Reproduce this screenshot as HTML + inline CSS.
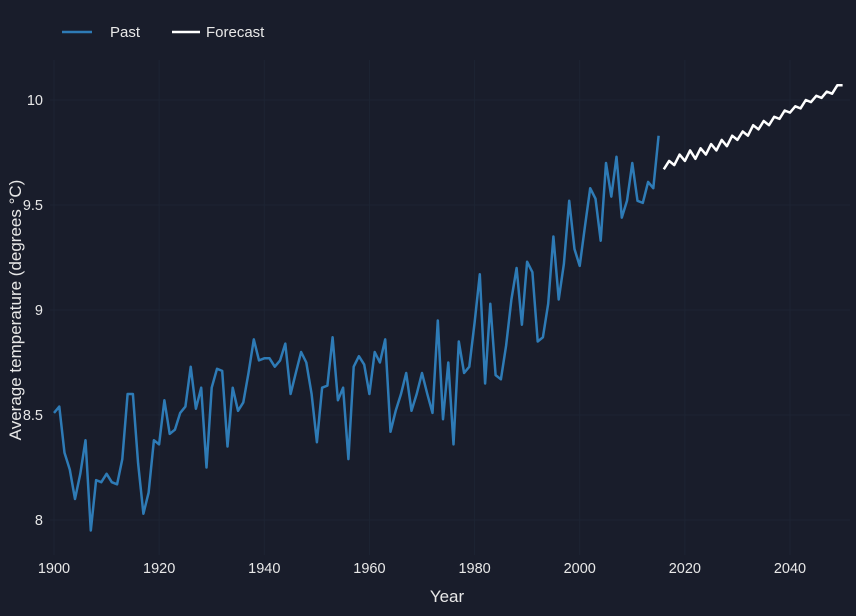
<!DOCTYPE html>
<html><head><meta charset="utf-8"><style>
html,body{margin:0;padding:0;background:#191d2b;}
svg{display:block;font-family:"Liberation Sans",sans-serif;}
</style></head><body>
<svg id="chart" width="856" height="616">
<rect width="856" height="616" fill="#191d2b"/>
<g id="grid"></g><g id="axes"></g><g id="series"></g>
<g>
<g><line x1="62" y1="32" x2="92" y2="32" stroke="#2e7bb6" stroke-width="2.5"/><text x="110" y="37" fill="#e8e8e8" font-size="15">Past</text></g>
<g><line x1="172" y1="32" x2="200" y2="32" stroke="#ffffff" stroke-width="2.5"/><text x="206" y="37" fill="#e8e8e8" font-size="15">Forecast</text></g>
</g>
<text x="447" y="602" text-anchor="middle" fill="#e8e8e8" font-size="17">Year</text>
<text transform="translate(21,310) rotate(-90)" text-anchor="middle" fill="#e8e8e8" font-size="17">Average temperature (degrees °C)</text>
</svg>
<script>
const pastStartYear = 1900;
const pastValues = [8.51,8.54,8.32,8.24,8.10,8.22,8.38,7.95,8.19,8.18,8.22,8.18,8.17,8.29,8.60,8.60,8.27,8.03,8.13,8.38,
8.36,8.57,8.41,8.43,8.51,8.54,8.73,8.53,8.63,8.25,8.63,8.72,8.71,8.35,8.63,8.52,8.56,8.70,8.86,8.76,
8.77,8.77,8.73,8.76,8.84,8.60,8.70,8.80,8.75,8.60,8.37,8.63,8.64,8.87,8.57,8.63,8.29,8.73,8.78,8.74,
8.60,8.80,8.75,8.86,8.42,8.52,8.60,8.70,8.52,8.60,8.70,8.60,8.51,8.95,8.48,8.75,8.36,8.85,8.70,8.73,
8.94,9.17,8.65,9.03,8.69,8.67,8.83,9.05,9.20,8.93,9.23,9.18,8.85,8.87,9.03,9.35,9.05,9.22,9.52,9.29,
9.21,9.40,9.58,9.53,9.33,9.70,9.54,9.73,9.44,9.52,9.70,9.52,9.51,9.61,9.58,9.83];
const forecastStartYear = 2016;
const forecastValues = [9.67,9.71,9.69,9.74,9.71,9.76,9.72,9.77,9.74,9.79,9.76,9.81,9.78,9.83,9.81,9.85,9.83,9.88,9.86,9.90,
9.88,9.92,9.91,9.95,9.94,9.97,9.96,10.00,9.99,10.02,10.01,10.04,10.03,10.07,10.07];
const xTicks = [1900,1920,1940,1960,1980,2000,2020,2040];
const yTicks = [8,8.5,9,9.5,10];
const yTickLabels = ["8","8.5","9","9.5","10"];

const NS="http://www.w3.org/2000/svg";
const X = yr => 54 + (yr-1900)*(736/140);
const Y = v => 520 - (v-8)*210;
function mk(tag, attrs, parent){const e=document.createElementNS(NS,tag);for(const k in attrs)e.setAttribute(k,attrs[k]);parent.appendChild(e);return e;}
const grid=document.getElementById('grid'), axes=document.getElementById('axes'), series=document.getElementById('series');
xTicks.forEach(t=>{
  const l=mk('line',{x1:X(t),x2:X(t),y1:60,y2:555,stroke:'#1d2433','stroke-width':1},grid);
  
  
  const tx=mk('text',{x:X(t),y:573,'text-anchor':'middle',fill:'#e8e8e8','font-size':14.5},axes);
  tx.textContent=t;
  
  
});
yTicks.forEach((t,i)=>{
  const l=mk('line',{x1:50,x2:850,y1:Y(t),y2:Y(t),stroke:'#1d2433','stroke-width':1},grid);
  
  
  const tx=mk('text',{x:43,y:Y(t)+5,'text-anchor':'end',fill:'#e8e8e8','font-size':14.5},axes);
  tx.textContent=yTickLabels[i];
  
  
});
const pp=pastValues.map((v,i)=>X(pastStartYear+i).toFixed(1)+','+Y(v).toFixed(1)).join(' ');
const past=mk('polyline',{points:pp,fill:'none',stroke:'#2e7bb6','stroke-width':2.5,'stroke-linejoin':'round'},series);


const fp=forecastValues.map((v,i)=>X(forecastStartYear+i).toFixed(1)+','+Y(v).toFixed(1)).join(' ');
const fc=mk('polyline',{points:fp,fill:'none',stroke:'#ffffff','stroke-width':2.5,'stroke-linejoin':'round'},series);


</script>
</body></html>
